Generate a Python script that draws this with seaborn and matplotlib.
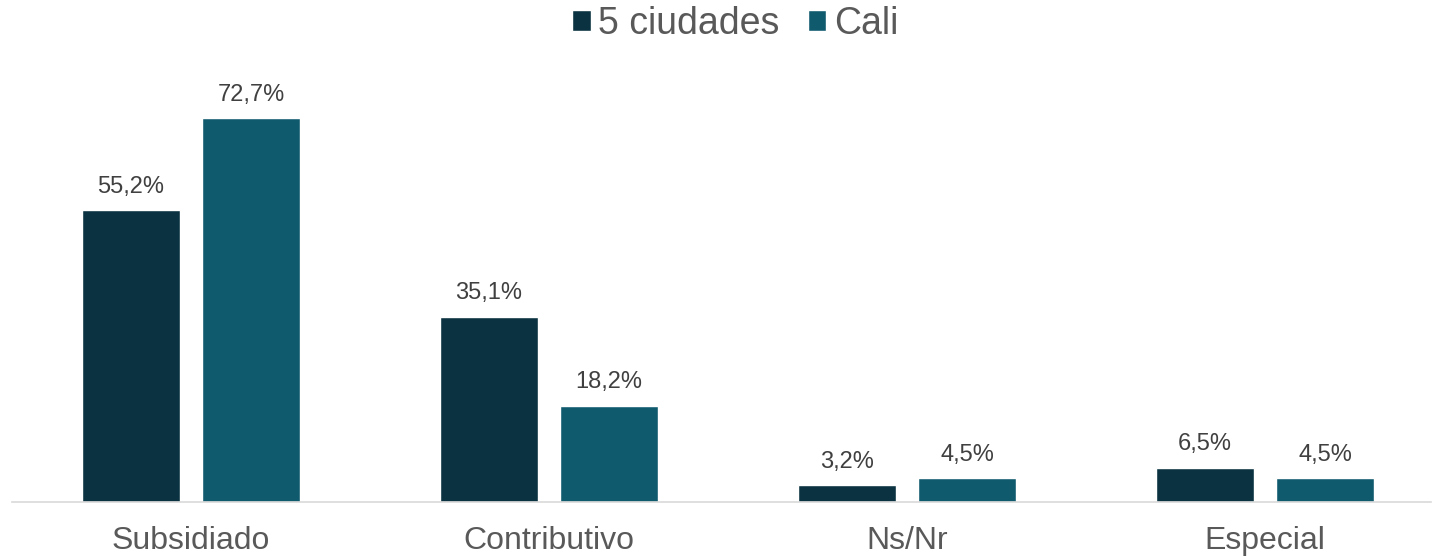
import matplotlib
matplotlib.use("Agg")
import matplotlib.pyplot as plt
import seaborn as sns
import pandas as pd
from matplotlib.patches import Patch

categories = ["Subsidiado", "Contributivo", "Ns/Nr", "Especial"]
series_names = ["5 ciudades", "Cali"]
vals_5c = [55.2, 35.1, 3.2, 6.5]
vals_cali = [72.7, 18.2, 4.5, 4.5]
colors = ["#0B3240", "#0F5A6D"]

df = pd.DataFrame({
    "cat": categories * 2,
    "serie": [series_names[0]] * 4 + [series_names[1]] * 4,
    "val": vals_5c + vals_cali,
})

sns.set_style("white")
plt.rcParams["font.family"] = ["Liberation Sans", "DejaVu Sans"]

fig = plt.figure(figsize=(14.33, 5.58), dpi=100)
ax = fig.add_axes([12 / 1433, 0.1004, 1419 / 1433, 0.7921])
sns.barplot(data=df, x="cat", y="val", hue="serie", palette=colors,
            width=0.67, gap=0.19, ax=ax, legend=False, saturation=1)

for c in ax.containers:
    ax.bar_label(c, labels=[f"{v:.1f}%".replace(".", ",") for v in c.datavalues],
                 padding=9, fontsize=17, color="#404040")

ax.set_xlim(-0.5, -0.5 + 1419 / 358)
ax.set_ylim(0, 83.7)
ax.set_xlabel("")
ax.set_ylabel("")
ax.set_yticks([])
for s in ["top", "right", "left"]:
    ax.spines[s].set_visible(False)
ax.spines["bottom"].set_color("#D9D9D9")
ax.spines["bottom"].set_linewidth(1.2)
ax.tick_params(axis="x", length=0, pad=17, labelsize=23, labelcolor="#595959")

handles = [Patch(facecolor=colors[i], label=series_names[i]) for i in range(2)]
fig.legend(handles=handles, loc="upper center", bbox_to_anchor=(0.513, 1.05), ncol=2,
           frameon=False, fontsize=27, labelcolor="#595959", handlelength=0.5,
           handleheight=0.5, handletextpad=0.2, columnspacing=0.75)

fig.savefig("out.png", dpi=100)
